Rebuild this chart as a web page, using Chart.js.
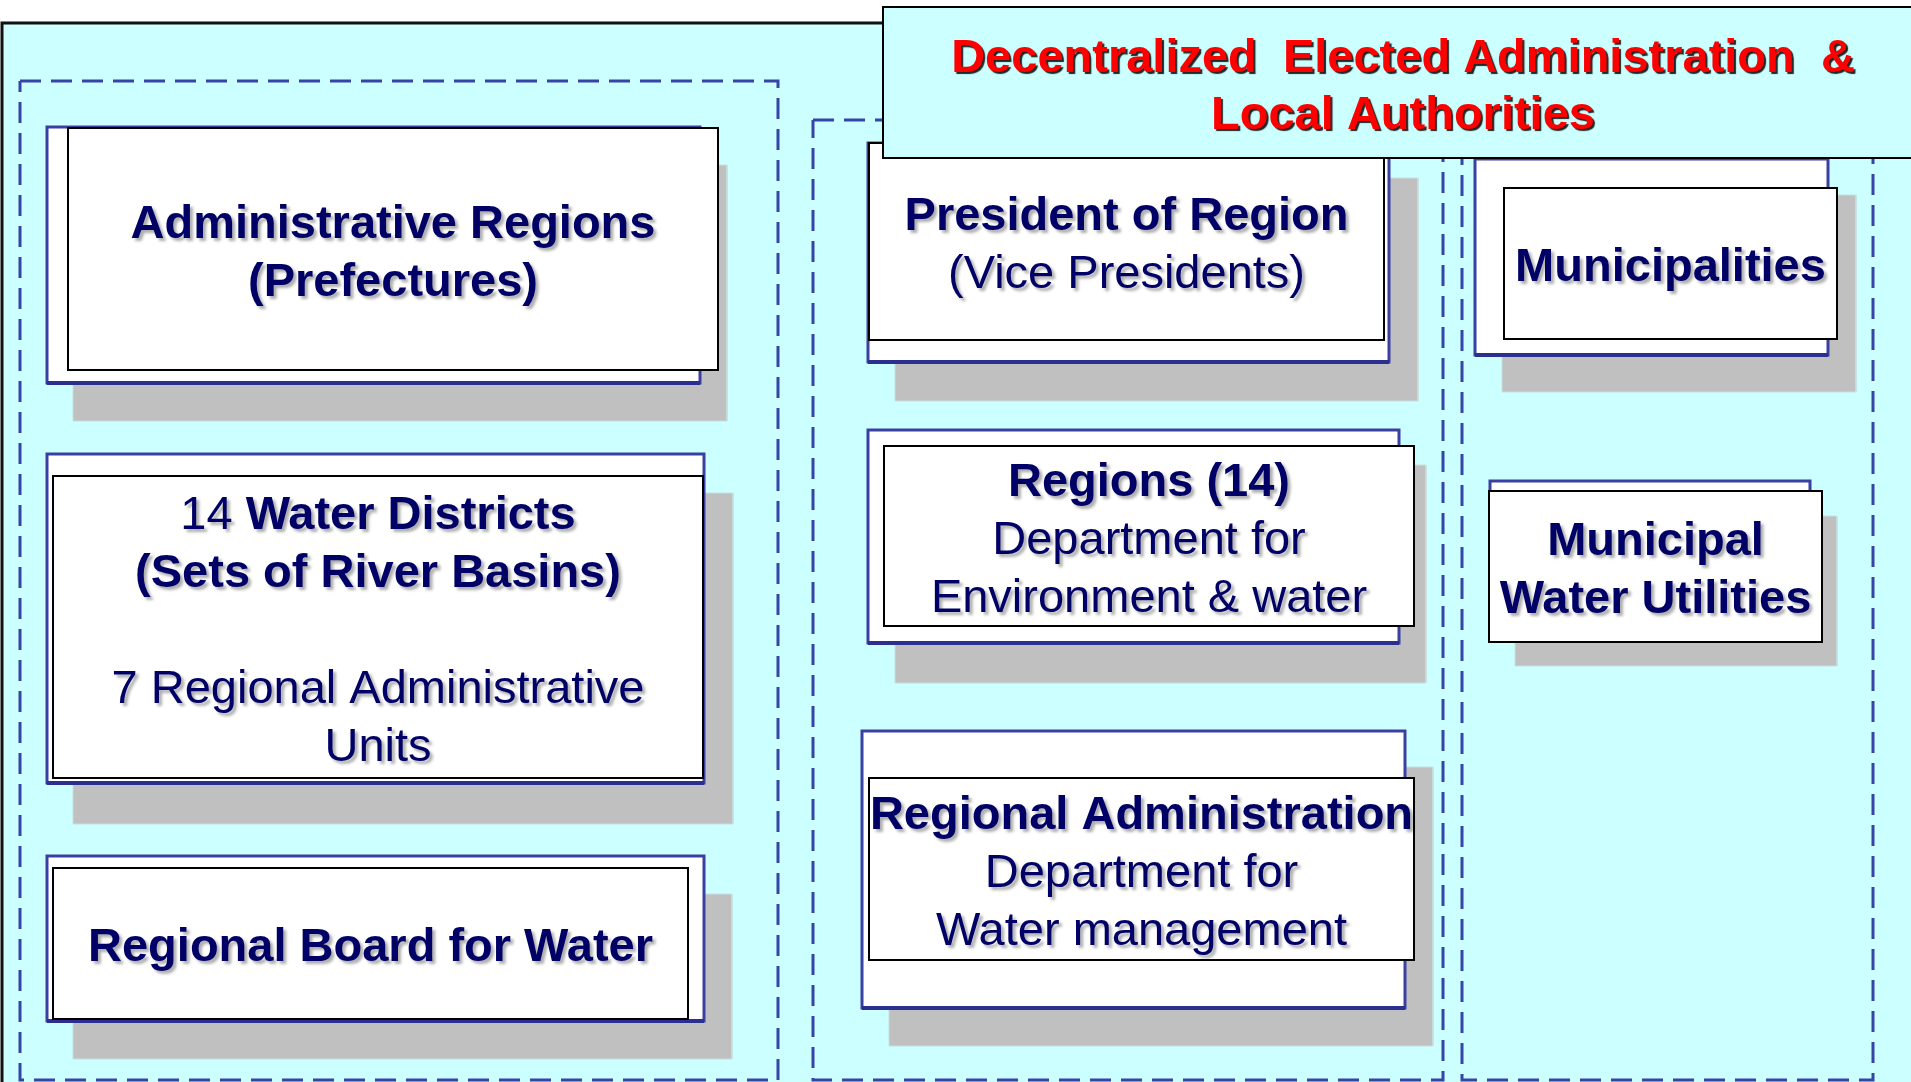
<!DOCTYPE html>
<html>
<head>
<meta charset="utf-8">
<script src="https://cdn.jsdelivr.net/npm/chart.js@4.4.1/dist/chart.umd.min.js"></script>
<style>
  html, body { margin: 0; padding: 0; background: #ffffff; overflow: hidden; }
  #diagram { display: block; }
</style>
</head>
<body>
<canvas id="diagram" width="1911" height="1082"></canvas>
<script>
// Boxes of the organisation chart, in diagram units (x 0-1911, y 0-1082 from the top)
const boxNames = ['Administrative Regions', 'Water Districts', 'Regional Board',
  'President of Region', 'Regions (14)', 'Regional Administration',
  'Municipalities', 'Municipal Water Utilities'];

// front (text) box
const frontX = [[68, 718], [53, 703], [53, 688], [869, 1384], [884, 1414], [869, 1414], [1504, 1837], [1489, 1822]];
const frontY = [[128, 370], [476, 778], [868, 1019], [143, 340], [446, 626], [778, 960], [188, 339], [491, 642]];
// blue-edged box behind it
const backX = [[47, 700], [47, 704], [47, 704], [868, 1389], [868, 1399], [862, 1405], [1475, 1828], [1490, 1810]];
const backY = [[127, 383], [454, 783], [856, 1021], [143, 362], [430, 643], [731, 1008], [159, 355], [481, 640]];
// grey drop shadow
const shadowX = [[73, 727], [73, 733], [73, 732], [895, 1418], [895, 1426], [889, 1433], [1502, 1856], [1515, 1837]];
const shadowY = [[165, 421], [493, 824], [894, 1059], [178, 401], [465, 683], [767, 1046], [195, 392], [516, 666]];

// text per box: lines made of [text, weight] runs ('b' bold, 'n' normal)
const boxText = [
  [[['Administrative Regions', 'b']], [['(Prefectures)', 'b']]],
  [[['14 ', 'n'], ['Water Districts', 'b']], [['(Sets of River Basins)', 'b']], [],
   [['7 Regional Administrative', 'n']], [['Units', 'n']]],
  [[['Regional Board for Water', 'b']]],
  [[['President of Region', 'b']], [['(Vice Presidents)', 'n']]],
  [[['Regions (14)', 'b']], [['Department for', 'n']], [['Environment & water', 'n']]],
  [[['Regional Administration', 'b']], [['Department for', 'n']], [['Water management', 'n']]],
  [[['Municipalities', 'b']]],
  [[['Municipal', 'b']], [['Water Utilities', 'b']]]
];

// dashed column groups
const groupX = [[20, 778], [813, 1443], [1462, 1873]];
const groupY = [[81, 1080], [120, 1080], [120, 1080]];

// header box and the panel behind everything
const titleLines = ['Decentralized  Elected Administration  &', 'Local Authorities'];
const titleX = [883, 1925];
const titleY = [7, 158];
const panelX = [2, 1940];
const panelY = [23, 1110];

const FONT = '"Liberation Sans", Arial, sans-serif';
const NAVY = '#000066';
const CYAN = '#ccffff';

function rectPoints(xs, ys) {
  return [
    {x: xs[0], y: ys[0]}, {x: xs[1], y: ys[0]}, {x: xs[1], y: ys[1]},
    {x: xs[0], y: ys[1]}, {x: xs[0], y: ys[0]}
  ];
}

function rectLayer(xs, ys, fillColor, lineColor, lineWidth, dash) {
  return {
    data: rectPoints(xs, ys),
    showLine: true,
    fill: fillColor ? 'shape' : false,
    backgroundColor: fillColor || 'transparent',
    borderColor: lineColor || 'transparent',
    borderWidth: lineWidth || 0,
    borderDash: dash || [],
    borderCapStyle: dash ? 'butt' : 'square',
    borderJoinStyle: 'miter',
    pointRadius: 0,
    tension: 0
  };
}

function edgeLayer(xs, yv, color, width) {
  return {
    data: [{x: xs[0], y: yv}, {x: xs[1], y: yv}],
    showLine: true,
    fill: false,
    borderColor: color,
    borderWidth: width,
    pointRadius: 0
  };
}

// layers listed bottom first
const layers = [];
layers.push(rectLayer(panelX, panelY, CYAN, '#111111', 3));
groupX.forEach((gx, i) => layers.push(rectLayer(gx, groupY[i], null, '#3545a5', 3, [21, 10])));
boxNames.forEach((name, i) => {
  layers.push(rectLayer(shadowX[i], shadowY[i], '#c0c0c0', '#c8dede', 1));
  layers.push(rectLayer(backX[i], backY[i], '#ffffff', '#3b40a0', 3));
  layers.push(edgeLayer(backX[i], backY[i][1], '#2a2f90', 4));
  layers.push(rectLayer(frontX[i], frontY[i], '#ffffff', '#000000', 2));
});
layers.push(rectLayer(titleX, titleY, CYAN, '#000000', 2));
layers.forEach((l, i) => { l.order = -i; });

function drawLines(ctx, lines, cx, cy, lineH, color, shadow) {
  const top = cy - (lines.length - 1) * lineH / 2;
  lines.forEach((runs, li) => {
    if (!runs.length) return;
    const fonts = runs.map(r => (r[1] === 'b' ? 'bold ' : '') + '47px ' + FONT);
    let total = 0;
    const widths = runs.map((r, k) => {
      ctx.font = fonts[k];
      const w = ctx.measureText(r[0]).width;
      total += w;
      return w;
    });
    let xPos = cx - total / 2;
    const yPos = top + li * lineH;
    runs.forEach((r, k) => {
      ctx.font = fonts[k];
      ctx.shadowColor = shadow.color;
      ctx.shadowOffsetX = shadow.dx;
      ctx.shadowOffsetY = shadow.dy;
      ctx.shadowBlur = shadow.blur;
      ctx.fillStyle = color;
      ctx.fillText(r[0], xPos, yPos);
      xPos += widths[k];
    });
  });
}

const textPlugin = {
  id: 'boxText',
  afterDatasetsDraw(chart) {
    const {ctx, scales: {x, y}} = chart;
    const lineH = Math.abs(y.getPixelForValue(58) - y.getPixelForValue(0));
    ctx.save();
    ctx.textAlign = 'left';
    ctx.textBaseline = 'middle';
    boxText.forEach((lines, i) => {
      const cx = x.getPixelForValue((frontX[i][0] + frontX[i][1]) / 2);
      const cy = y.getPixelForValue((frontY[i][0] + frontY[i][1]) / 2 + 5);
      drawLines(ctx, lines, cx, cy, lineH, NAVY, {color: 'rgba(0,0,0,0.32)', dx: 3, dy: 3, blur: 3});
    });
    const tx = x.getPixelForValue(1403);
    const ty = y.getPixelForValue((titleY[0] + titleY[1]) / 2 + 5);
    drawLines(ctx, titleLines.map(t => [[t, 'b']]), tx, ty, lineH * 0.985, '#ff0000',
      {color: 'rgba(0,0,0,0.85)', dx: 2, dy: 2, blur: 1});
    ctx.restore();
  }
};

new Chart(document.getElementById('diagram'), {
  type: 'scatter',
  data: { datasets: layers },
  options: {
    responsive: false,
    animation: false,
    events: [],
    layout: { padding: 0 },
    scales: {
      x: { type: 'linear', min: 0, max: 1911, display: false },
      y: { type: 'linear', min: 0, max: 1082, reverse: true, display: false }
    },
    plugins: {
      legend: { display: false },
      tooltip: { enabled: false },
      filler: { propagate: false }
    }
  },
  plugins: [textPlugin]
});
</script>
</body>
</html>
